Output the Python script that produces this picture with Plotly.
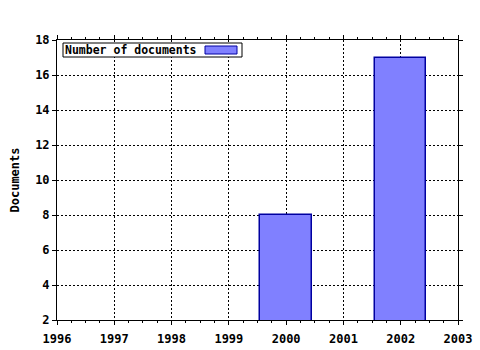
import plotly.graph_objects as go

years = [2000, 2002]
documents = [8, 17]
series_name = "Number of documents"
y_title = "Documents"
x_ticks = [1996, 1997, 1998, 1999, 2000, 2001, 2002, 2003]
y_ticks = [2, 4, 6, 8, 10, 12, 14, 16, 18]

FONT = "DejaVu Sans Mono"

fig = go.Figure()
fig.add_trace(go.Bar(
    x=years, y=documents, width=0.9, name=series_name,
    marker=dict(color="#8080FF", line=dict(color="#0000A0", width=1.5)),
    showlegend=False,
))

L, R, T, B = 57, 22, 40, 30
W, H = 480, 350
pw, ph = W - L - R, H - T - B

def px(x):
    return (x - L) / pw

def py(y):
    return (H - B - y) / ph

fig.update_layout(
    width=W, height=H,
    margin=dict(l=L, r=R, t=T, b=B, pad=0, autoexpand=False),
    paper_bgcolor="white", plot_bgcolor="white",
    font=dict(family=FONT, size=12, color="black"),
    bargap=0,
    xaxis=dict(
        range=[1996, 2003], tickvals=x_ticks, ticktext=[str(v) for v in x_ticks],
        showline=True, linecolor="black", linewidth=1, mirror="ticks",
        ticks="outside", ticklen=4, tickcolor="black",
        showgrid=True, gridcolor="black", gridwidth=1, griddash="2px,2px",
        tickfont=dict(family=FONT, size=12, weight="bold"),
        ticklabelstandoff=4, automargin=False,
        minor=dict(dtick=0.25, ticks="outside", ticklen=2, tickcolor="black", showgrid=False),
        zeroline=False,
    ),
    yaxis=dict(
        range=[2, 18], tickvals=y_ticks,
        showline=True, linecolor="black", linewidth=1, mirror="ticks",
        ticks="outside", ticklen=4, tickcolor="black",
        showgrid=True, gridcolor="black", gridwidth=1, griddash="2px,2px",
        tickfont=dict(family=FONT, size=12, weight="bold"), automargin=False,
        title=dict(text=y_title, font=dict(family=FONT, size=12, weight="bold"), standoff=12),
        zeroline=False,
    ),
)

# legend box (text on left, swatch on right)
fig.add_shape(
    type="rect", xref="paper", yref="paper", layer="above",
    x0=px(63), x1=px(242), y0=py(57), y1=py(43),
    fillcolor="white", line=dict(color="black", width=1),
)
fig.add_shape(
    type="rect", xref="paper", yref="paper", layer="above",
    x0=px(205), x1=px(237), y0=py(54), y1=py(46),
    fillcolor="#8080FF", line=dict(color="#0000A0", width=1),
)
fig.add_annotation(
    xref="paper", yref="paper", x=px(64), y=py(50), xanchor="left", yanchor="middle",
    text=series_name, showarrow=False, align="left",
    font=dict(family=FONT, size=11.5, weight="bold", color="black"),
    borderpad=0,
)

fig.write_html("out.html")
